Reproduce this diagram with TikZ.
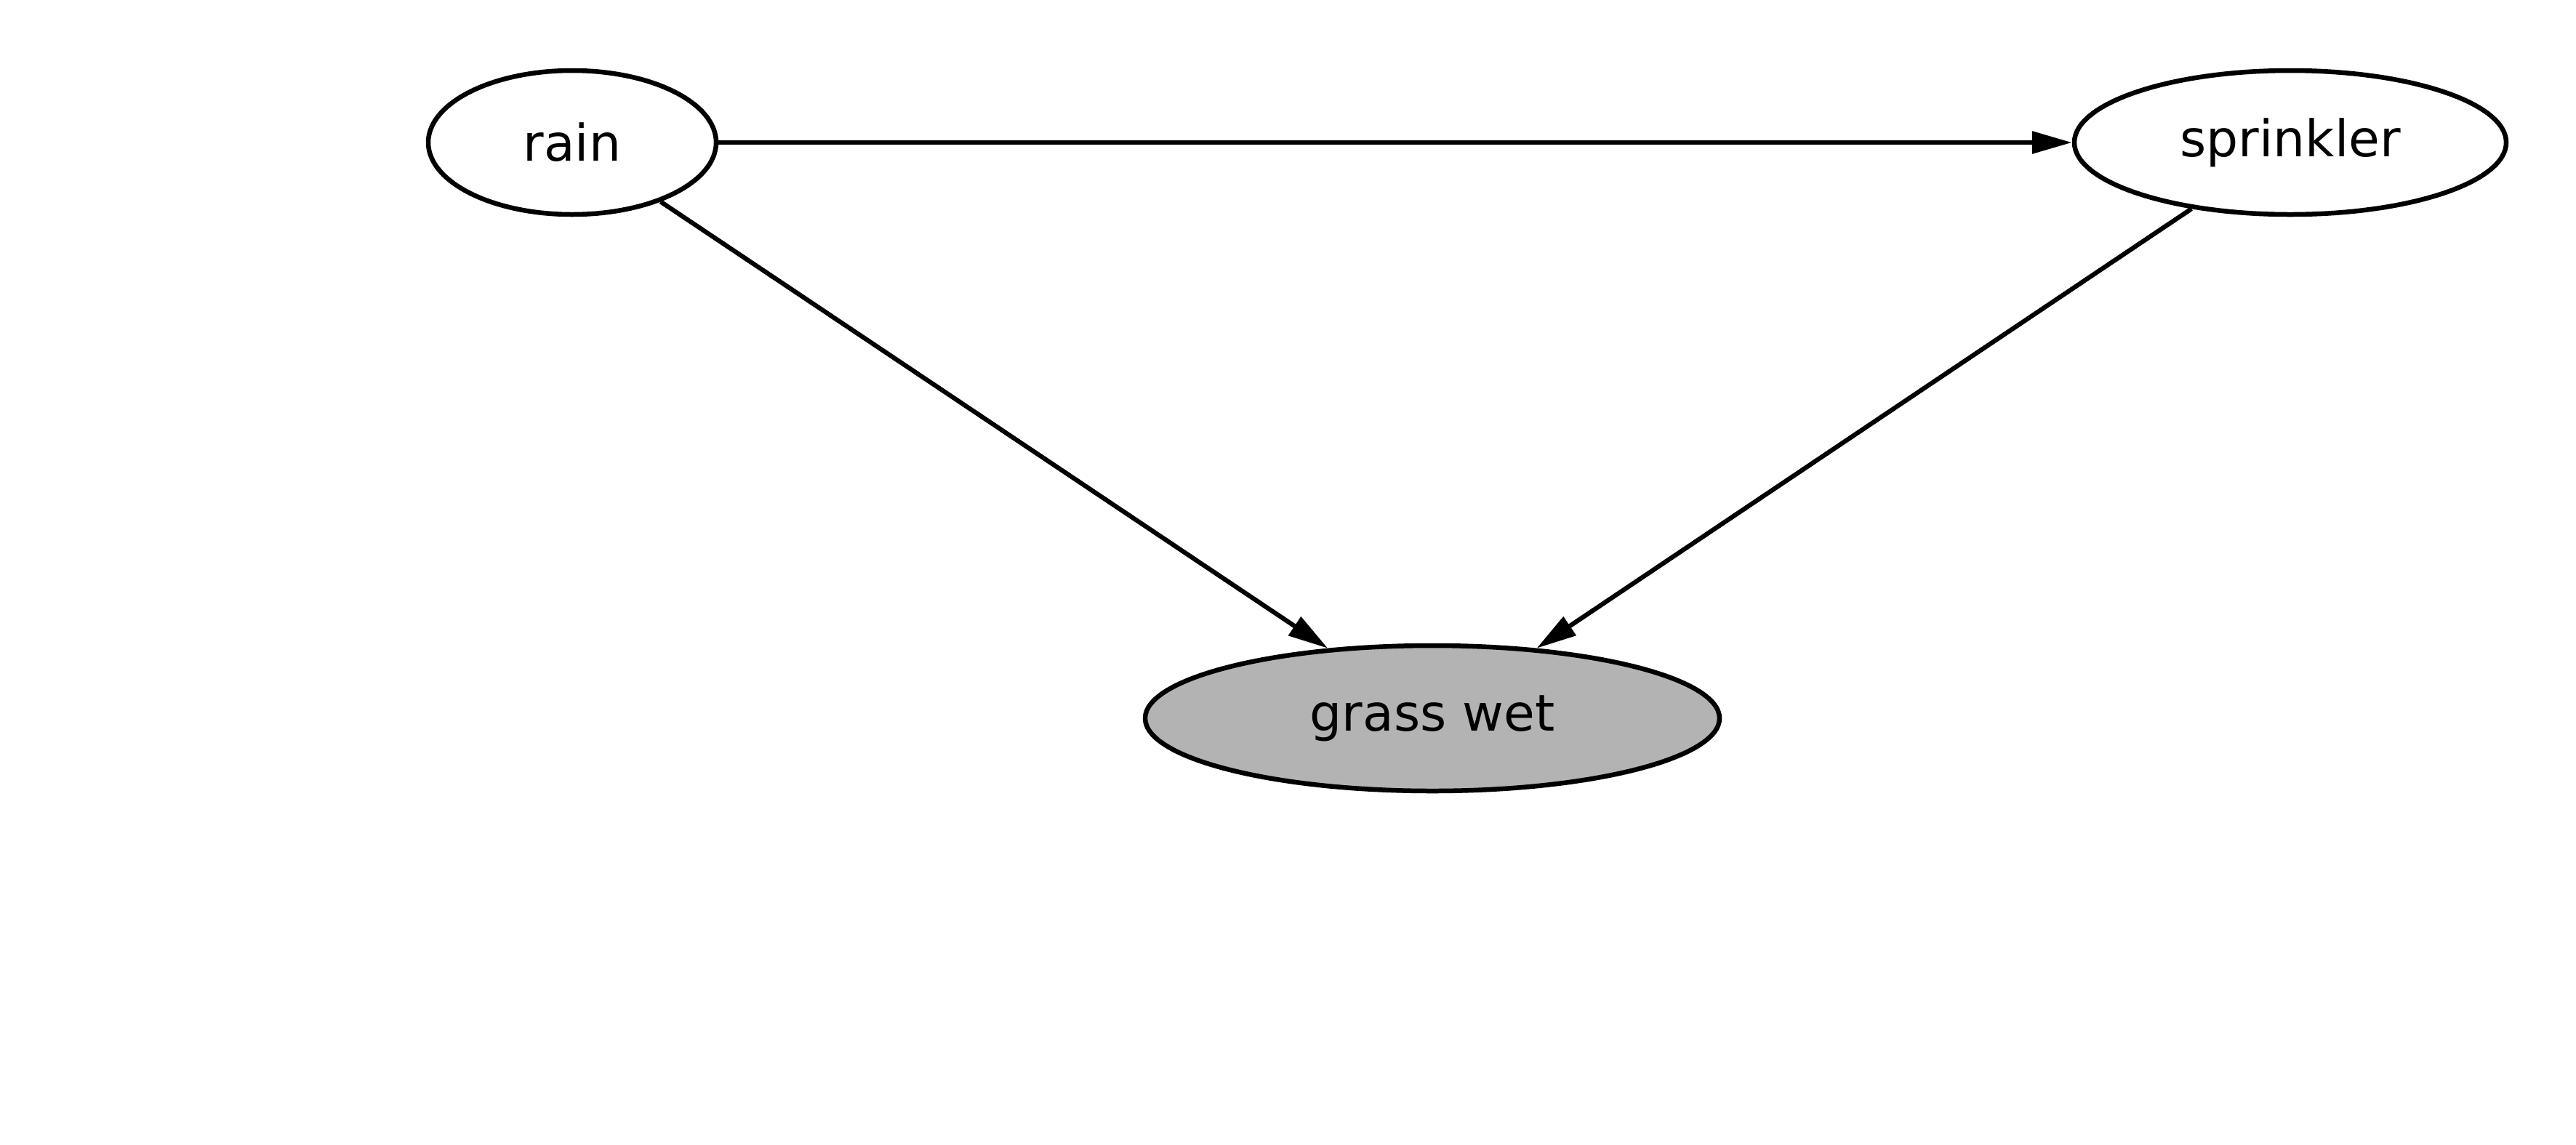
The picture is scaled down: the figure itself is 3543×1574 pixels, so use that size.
\documentclass[tikz,border=0pt]{standalone}
\usepackage{fontspec}
\setmainfont{DejaVu Sans}
\usetikzlibrary{shapes.geometric,arrows.meta}
\begin{document}
\begin{tikzpicture}[x=0.2pt,y=-0.2pt,
  var/.style={ellipse,draw,line width=1.3pt,inner sep=0pt,fill=white,
    font=\fontsize{13.9}{16}\selectfont},
  edge/.style={line width=1.25pt,-{Triangle[length=11pt,width=6pt]}}]
\useasboundingbox (0,0) rectangle (3543,1574);
\node[var,minimum width=79.2pt,minimum height=39.6pt] (rain) at (787,196) {rain};
\node[var,minimum width=118.8pt,minimum height=39.6pt] (sprinkler) at (3150,196) {sprinkler};
\node[var,fill={rgb,255:red,179;green,179;blue,179},minimum width=158pt,minimum height=40pt] (grass) at (1970,988) {grass wet};
\draw[edge] (rain) -- (sprinkler);
\draw[edge] (rain) -- (grass);
\draw[edge] (sprinkler) -- (grass);
\end{tikzpicture}
\end{document}
